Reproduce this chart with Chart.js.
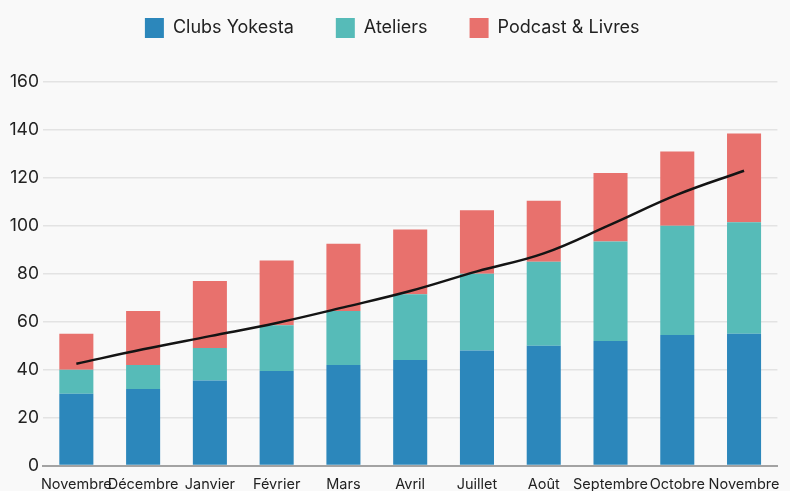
<!DOCTYPE html>
<html lang="fr">
<head>
<meta charset="utf-8">
<title>Clubs Yokesta</title>
<script src="https://cdn.jsdelivr.net/npm/chart.js@4.4.1/dist/chart.umd.min.js"></script>
<style>
  html, body { margin: 0; padding: 0; background: #f9f9f9; overflow: hidden; }
  #wrap { width: 790px; height: 503px; position: relative; }
</style>
</head>
<body>
<div id="wrap"><canvas id="chart"></canvas></div>
<script>
const mois = ["Novembre", "Décembre", "Janvier", "Février", "Mars", "Avril",
              "Juillet", "Août", "Septembre", "Octobre", "Novembre"];

const clubs    = [30, 32, 35.5, 39.5, 42, 44, 48, 50, 52, 54.5, 55];
const ateliers = [10, 10, 13.5, 19, 22.5, 27.5, 32, 35, 41.5, 45.5, 46.5];
const podcasts = [15, 22.5, 28, 27, 28, 27, 26.5, 25.5, 28.5, 31, 37];
const tendance = [42.5, 48.5, 54, 59.5, 66, 72.8, 81, 88.5, 100.5, 113, 123];

const yTicks = [0, 20, 40, 60, 80, 100, 120, 140, 160];

const police = "Inter, 'Noto Sans', sans-serif";

// un peu d'espace entre la légende et le graphique
const legendSpace = {
    id: "legendSpace",
    beforeInit(chart) {
        const fitOrig = chart.legend.fit;
        chart.legend.fit = function () {
            fitOrig.call(this);
            this.height += 34;
        };
    }
};

const ctx = document.getElementById("chart").getContext("2d");

new Chart(ctx, {
    type: "bar",
    data: {
        labels: mois,
        datasets: [
            {
                type: "line",
                label: "Tendance",
                data: tendance,
                borderColor: "#141414",
                borderWidth: 2.5,
                pointRadius: 0,
                tension: 0.4,
                fill: false,
                stack: "tendance",
                order: 0
            },
            { label: "Clubs Yokesta", data: clubs, backgroundColor: "#2c87bb", stack: "a", order: 1 },
            { label: "Ateliers", data: ateliers, backgroundColor: "#56bbb8", stack: "a", order: 1 },
            { label: "Podcast & Livres", data: podcasts, backgroundColor: "#e8716d", stack: "a", order: 1 }
        ]
    },
    options: {
        responsive: true,
        maintainAspectRatio: false,
        animation: false,
        layout: { padding: { left: 5.5, right: 11, top: -24, bottom: 0 } },
        datasets: {
            bar: { barPercentage: 0.51, categoryPercentage: 1 }
        },
        plugins: {
            legend: {
                position: "top",
                labels: {
                    filter: (item) => item.text !== "Tendance",
                    boxWidth: 19,
                    boxHeight: 20,
                    padding: 42,
                    color: "#222",
                    font: { family: police, size: 18 }
                }
            },
            tooltip: { enabled: false }
        },
        scales: {
            x: {
                stacked: true,
                grid: { display: false, drawTicks: false },
                border: { display: true, color: "#a3a3a3", width: 2 },
                ticks: {
                    color: "#222",
                    padding: 10,
                    maxRotation: 0,
                    autoSkip: false,
                    font: { family: police, size: 14.5 }
                }
            },
            y: {
                stacked: true,
                min: 0,
                max: 160,
                afterBuildTicks: (axis) => { axis.ticks = yTicks.map(v => ({ value: v })); },
                grid: { color: "#e3e3e3", lineWidth: 1.5, drawTicks: false },
                border: { display: false },
                ticks: {
                    color: "#222",
                    padding: 4,
                    font: { family: police, size: 17.5 }
                }
            }
        }
    },
    plugins: [legendSpace]
});
</script>
</body>
</html>
